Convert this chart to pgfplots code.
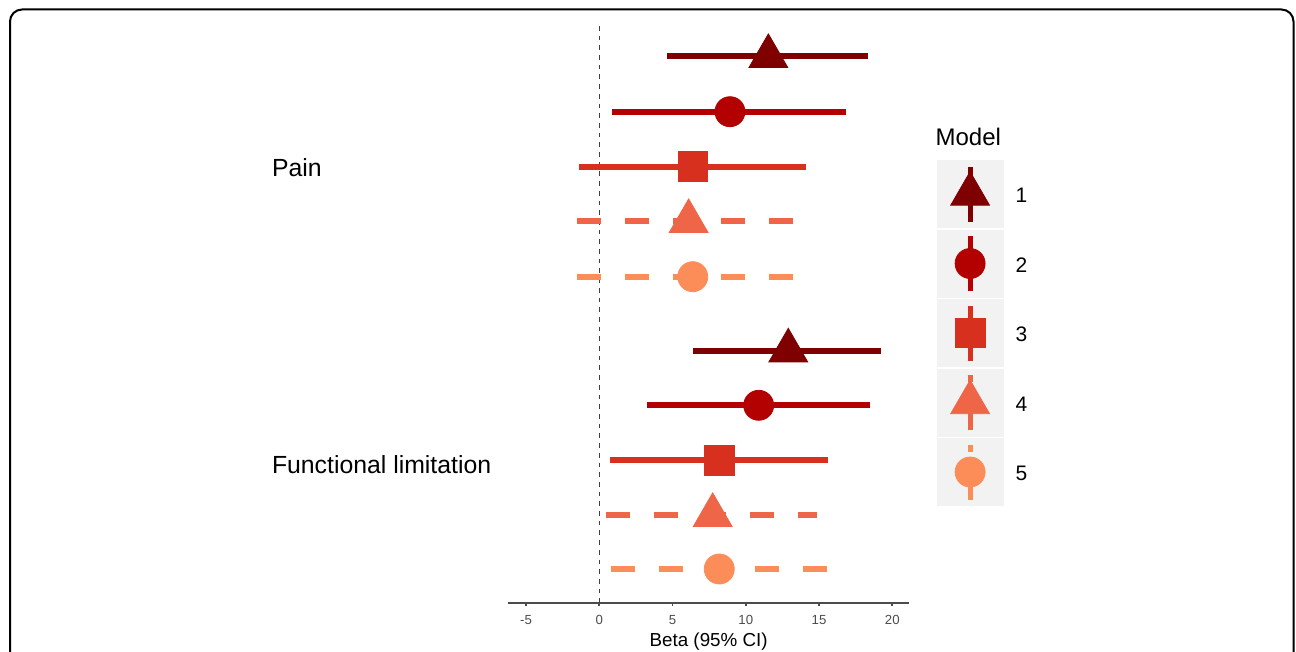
\documentclass[border=0pt]{standalone}
\usepackage{fontspec}
\setmainfont{Liberation Sans}
\usepackage{pgfplots}
\pgfplotsset{compat=1.18}
\definecolor{m1}{HTML}{7F0000}
\definecolor{m2}{HTML}{B30000}
\definecolor{m3}{HTML}{D7301F}
\definecolor{m4}{HTML}{EF6548}
\definecolor{m5}{HTML}{FC8D59}
\definecolor{legbg}{HTML}{F2F2F2}
\tikzset{
  ci/.style={line width=3pt, line cap=butt},
  cid/.style={line width=3pt, line cap=butt, dash pattern=on 11.75pt off 12.25pt},
}
\newcommand{\legkey}[4]{%
  \addlegendimage{legend image code/.code={
    \fill[legbg] (-16.5pt,-16.8pt) rectangle (16.5pt,16.8pt);
    \draw[#1, line width=2.6pt, line cap=butt, #4] (0pt,-13.75pt) -- (0pt,13.75pt);
    \draw[#1] plot[only marks, mark=#2, mark size=#3, mark options={solid, fill=#1, draw=none}] coordinates {(0pt,0pt)};
  }}%
}
\begin{document}
\begin{tikzpicture}
\useasboundingbox (0,0) rectangle (648pt,-326pt);
\draw[line width=1pt, rounded corners=6pt] (5pt,-4.75pt) rectangle (646.75pt,-345pt);
\node[anchor=base west, inner sep=0pt, font=\fontsize{12.4}{14}\selectfont] at (135.8pt,-88.35pt) {Pain};
\node[anchor=base west, inner sep=0pt, font=\fontsize{12.4}{14}\selectfont] at (135.8pt,-236.65pt) {Functional limitation};
\node[anchor=base west, inner sep=0pt, font=\fontsize{12}{14}\selectfont] at (467.6pt,-72.85pt) {Model};
\begin{axis}[
  at={(254pt,-301.5pt)}, anchor=south west,
  scale only axis, width=200.65pt, height=289pt,
  xmin=-6.23, xmax=21.16, ymin=0, ymax=578,
  axis x line*=bottom, axis y line=none,
  axis line style={black!70, line width=0.9pt},
  xtick={-5,0,5,10,15,20}, ytick=\empty,
  tick align=outside, major tick length=1.6pt,
  tick style={black!70, line width=0.9pt},
  /pgf/number format/assume math mode=true,
  xticklabel style={font=\fontsize{6.6}{8}\selectfont, text=black!70, inner sep=0pt, anchor=base, yshift=-9pt},
  xlabel={Beta (95\% CI)},
  xlabel style={font=\fontsize{9.4}{11}\selectfont, at={(axis description cs:0.5,0)}, anchor=base, inner sep=0pt, yshift=-21.7pt},
  clip=false,
  legend style={at={(1.0683,0.7664)}, anchor=north west, draw=none, fill=none, inner sep=0pt, outer sep=0pt,
    row sep=0.75pt, column sep=6pt, font=\fontsize{10.5}{12}\selectfont, nodes={inner sep=0pt, yshift=-1.5pt}},
  legend cell align=left,
]
% zero reference line
\draw[black!75, line width=0.5pt, dash pattern=on 2.35pt off 2.5pt] (axis cs:0,577) -- (axis cs:0,0);
% ---- Pain ----
\addplot[m1, ci, forget plot] coordinates {(4.64,546.7) (18.34,546.7)};
\addplot[m1, only marks, mark=triangle*, mark size=11.2pt, mark options={fill=m1, draw=none}, forget plot] coordinates {(11.54,546.7)};
\addplot[m2, ci, forget plot] coordinates {(0.89,491.3) (16.82,491.3)};
\addplot[m2, only marks, mark=*, mark size=7.5pt, mark options={fill=m2, draw=none}, forget plot] coordinates {(8.92,491.3)};
\addplot[m3, ci, forget plot] coordinates {(-1.39,436.3) (14.09,436.3)};
\addplot[m3, only marks, mark=square*, mark size=7.4pt, mark options={fill=m3, draw=none}, forget plot] coordinates {(6.38,436.3)};
\addplot[m4, cid, forget plot] coordinates {(-1.50,381.7) (13.5,381.7)};
\addplot[m4, only marks, mark=triangle*, mark size=11.2pt, mark options={solid, fill=m4, draw=none}, forget plot] coordinates {(6.10,381.7)};
\addplot[m5, cid, forget plot] coordinates {(-1.50,326.3) (13.5,326.3)};
\addplot[m5, only marks, mark=*, mark size=7.5pt, mark options={solid, fill=m5, draw=none}, forget plot] coordinates {(6.38,326.3)};
% ---- Functional limitation ----
\addplot[m1, ci, forget plot] coordinates {(6.42,252.3) (19.23,252.3)};
\addplot[m1, only marks, mark=triangle*, mark size=11.2pt, mark options={fill=m1, draw=none}, forget plot] coordinates {(12.90,252.3)};
\addplot[m2, ci, forget plot] coordinates {(3.28,197.7) (18.48,197.7)};
\addplot[m2, only marks, mark=*, mark size=7.5pt, mark options={fill=m2, draw=none}, forget plot] coordinates {(10.88,197.7)};
\addplot[m3, ci, forget plot] coordinates {(0.73,142.7) (15.63,142.7)};
\addplot[m3, only marks, mark=square*, mark size=7.4pt, mark options={fill=m3, draw=none}, forget plot] coordinates {(8.19,142.7)};
\addplot[m4, cid, forget plot] coordinates {(0.48,87.7) (14.84,87.7)};
\addplot[m4, only marks, mark=triangle*, mark size=11.2pt, mark options={solid, fill=m4, draw=none}, forget plot] coordinates {(7.74,87.7)};
\addplot[m5, cid, forget plot] coordinates {(0.80,34) (15.6,34)};
\addplot[m5, only marks, mark=*, mark size=7.5pt, mark options={solid, fill=m5, draw=none}, forget plot] coordinates {(8.19,34)};
% ---- legend ----
\legkey{m1}{triangle*}{11.2pt}{solid}
\addlegendentry{1}
\legkey{m2}{*}{7.5pt}{solid}
\addlegendentry{2}
\legkey{m3}{square*}{7.4pt}{solid}
\addlegendentry{3}
\legkey{m4}{triangle*}{11.2pt}{dash pattern=on 11.75pt off 12.25pt}
\addlegendentry{4}
\legkey{m5}{*}{7.5pt}{dash pattern=on 11.75pt off 12.25pt}
\addlegendentry{5}
\end{axis}
\end{tikzpicture}
\end{document}
